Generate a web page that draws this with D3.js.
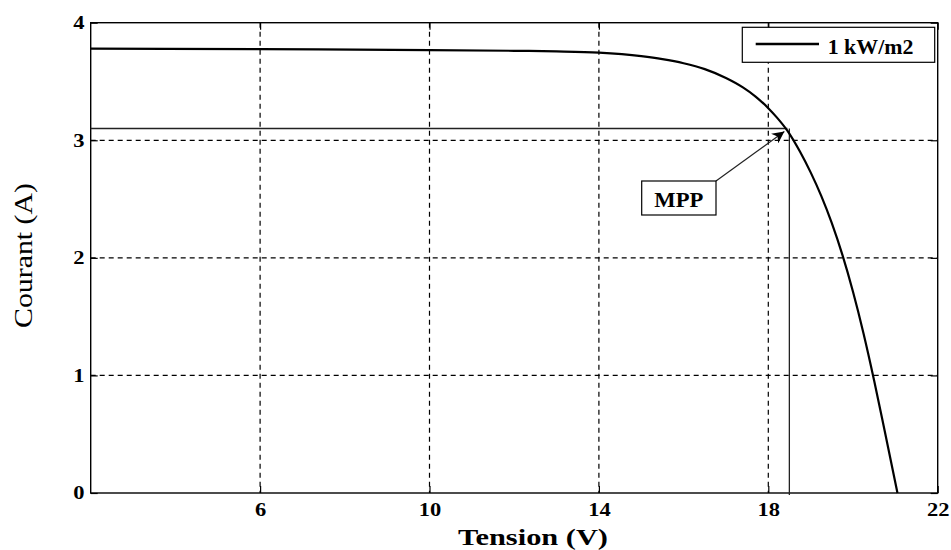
<!DOCTYPE html>
<html>
<head>
<meta charset="utf-8">
<script src="https://cdn.jsdelivr.net/npm/d3@7"></script>
<style>
  body { margin: 0; background: #fff; }
  svg { display: block; font-family: "Liberation Serif", "DejaVu Serif", serif; }
</style>
</head>
<body>
<div id="chart"></div>
<script>
// I-V curve, 1 kW/m2
const tension = [2, 6, 10, 12, 13, 14, 15, 15.5, 16, 16.5, 17, 17.4, 17.7, 18, 18.2, 18.45, 18.75, 19, 19.25, 19.5, 19.75, 20, 20.25, 20.5, 20.75, 21.05]
const courant = [3.78, 3.775, 3.767, 3.761, 3.756, 3.745, 3.715, 3.69, 3.655, 3.605, 3.53, 3.45, 3.372, 3.273, 3.195, 3.082, 2.902, 2.727, 2.527, 2.295, 2.025, 1.712, 1.355, 0.955, 0.525, 0]
const mpp = [18.45, 3.1]
const xTicks = [6, 10, 14, 18, 22]
const yTicks = [0, 1, 2, 3, 4]
const xGrid = [6, 10, 14, 18]
const yGrid = [1, 2, 3]
const legendLabel = '1 kW/m2'
const mppLabel = 'MPP'

const w = 951
const h = 550
const pLeft = 90.7, pRight = 937.7, pTop = 22.7, pBottom = 493
const stretch = 1.25

const svg = d3.select('#chart').append('svg').attr('width', w).attr('height', h)

const x = d3.scaleLinear().domain([2, 22]).range([pLeft, pRight])
const y = d3.scaleLinear().domain([0, 4]).range([pBottom, pTop])

// grid
svg.append('g').selectAll('line')
    .data(xGrid)
    .enter()
    .append('line')
    .attr('x1', d => x(d)).attr('x2', d => x(d))
    .attr('y1', pTop).attr('y2', pBottom)
    .attr('stroke', '#000').attr('stroke-width', 1.2)
    .attr('stroke-dasharray', '5,4')
svg.append('g').selectAll('line')
    .data(yGrid)
    .enter()
    .append('line')
    .attr('x1', pLeft).attr('x2', pRight)
    .attr('y1', d => y(d)).attr('y2', d => y(d))
    .attr('stroke', '#000').attr('stroke-width', 1.2)
    .attr('stroke-dasharray', '5,4')

// axes
const xAxis = svg.append('g')
    .attr('transform', `translate(0,${pBottom})`)
    .call(d3.axisBottom(x).tickValues(xTicks).tickFormat(d3.format('d')).tickSizeInner(-7).tickSizeOuter(0).tickPadding(10))
svg.append('g')
    .attr('transform', `translate(0,${pTop})`)
    .call(d3.axisTop(x).tickValues(xTicks).tickFormat('').tickSizeInner(-7).tickSizeOuter(0))
const yAxis = svg.append('g')
    .attr('transform', `translate(${pLeft},0)`)
    .call(d3.axisLeft(y).tickValues(yTicks).tickFormat(d3.format('d')).tickSizeInner(-7).tickSizeOuter(0).tickPadding(5))
svg.append('g')
    .attr('transform', `translate(${pRight},0)`)
    .call(d3.axisRight(y).tickValues(yTicks).tickFormat('').tickSizeInner(-7).tickSizeOuter(0))

svg.selectAll('.domain').remove()
svg.selectAll('.tick line').attr('stroke', '#000').attr('stroke-width', 1.2)
svg.selectAll('.tick text')
    .attr('font-family', '"Liberation Serif", serif')
    .attr('font-weight', 'bold')
    .attr('font-size', 18)
    .attr('fill', '#000')
    .attr('transform', `scale(${stretch},1)`)
xAxis.selectAll('.tick text').attr('dy', '0.71em')

// frame
svg.append('rect')
    .attr('x', pLeft).attr('y', pTop)
    .attr('width', pRight - pLeft).attr('height', pBottom - pTop)
    .attr('fill', 'none').attr('stroke', '#000').attr('stroke-width', 1.4)

// MPP guide lines
svg.append('line')
    .attr('x1', pLeft).attr('x2', x(mpp[0]))
    .attr('y1', y(mpp[1])).attr('y2', y(mpp[1]))
    .attr('stroke', '#222').attr('stroke-width', 1.3)
svg.append('line')
    .attr('x1', x(mpp[0]) + 2).attr('x2', x(mpp[0]) + 2)
    .attr('y1', y(mpp[1])).attr('y2', pBottom + 2)
    .attr('stroke', '#222').attr('stroke-width', 1.3)

// curve
const pts = tension.map((v, i) => [v, courant[i]])
const line = d3.line().x(d => x(d[0])).y(d => y(d[1])).curve(d3.curveMonotoneX)
svg.append('path')
    .datum(pts)
    .attr('d', line)
    .attr('fill', 'none')
    .attr('stroke', '#000')
    .attr('stroke-width', 2.2)

// MPP annotation
svg.append('defs').append('marker')
    .attr('id', 'arrow')
    .attr('viewBox', '0 0 10 10')
    .attr('refX', 10).attr('refY', 5)
    .attr('markerWidth', 17).attr('markerHeight', 12)
    .attr('markerUnits', 'userSpaceOnUse')
    .attr('orient', 'auto')
    .append('path')
    .attr('d', 'M0,0 L10,5 L0,10 L3,5 Z')
    .attr('fill', '#000')

const boxX = 641.7, boxY = 181, boxW = 74.3, boxH = 34
svg.append('line')
    .attr('x1', boxX + boxW).attr('y1', boxY)
    .attr('x2', x(mpp[0]) - 3).attr('y2', y(mpp[1]) + 3)
    .attr('stroke', '#222').attr('stroke-width', 1.2)
    .attr('marker-end', 'url(#arrow)')
svg.append('rect')
    .attr('x', boxX).attr('y', boxY)
    .attr('width', boxW).attr('height', boxH)
    .attr('fill', '#fff').attr('stroke', '#000').attr('stroke-width', 1.2)
svg.append('text')
    .attr('x', boxX + boxW / 2).attr('y', 207)
    .attr('text-anchor', 'middle')
    .attr('font-weight', 'bold')
    .attr('font-size', 20)
    .attr('textLength', 49)
    .attr('lengthAdjust', 'spacingAndGlyphs')
    .text(mppLabel)

// legend
svg.append('rect')
    .attr('x', 742.3).attr('y', 27.3)
    .attr('width', 192.4).attr('height', 35)
    .attr('fill', '#fff').attr('stroke', '#000').attr('stroke-width', 1.2)
svg.append('line')
    .attr('x1', 755.7).attr('x2', 819)
    .attr('y1', 44).attr('y2', 44)
    .attr('stroke', '#000').attr('stroke-width', 2.6)
svg.append('text')
    .attr('x', 827.7).attr('y', 54)
    .attr('font-weight', 'bold')
    .attr('font-size', 20)
    .attr('textLength', 85.7)
    .attr('lengthAdjust', 'spacingAndGlyphs')
    .text(legendLabel)

// axis titles
svg.append('text')
    .attr('x', 533).attr('y', 545)
    .attr('text-anchor', 'middle')
    .attr('font-weight', 'bold')
    .attr('font-size', 23)
    .attr('textLength', 150)
    .attr('lengthAdjust', 'spacingAndGlyphs')
    .text('Tension (V)')
svg.append('text')
    .attr('transform', 'translate(32,255.5) rotate(-90)')
    .attr('text-anchor', 'middle')
    .attr('font-size', 26)
    .attr('textLength', 145)
    .attr('lengthAdjust', 'spacingAndGlyphs')
    .text('Courant (A)')
</script>
</body>
</html>
